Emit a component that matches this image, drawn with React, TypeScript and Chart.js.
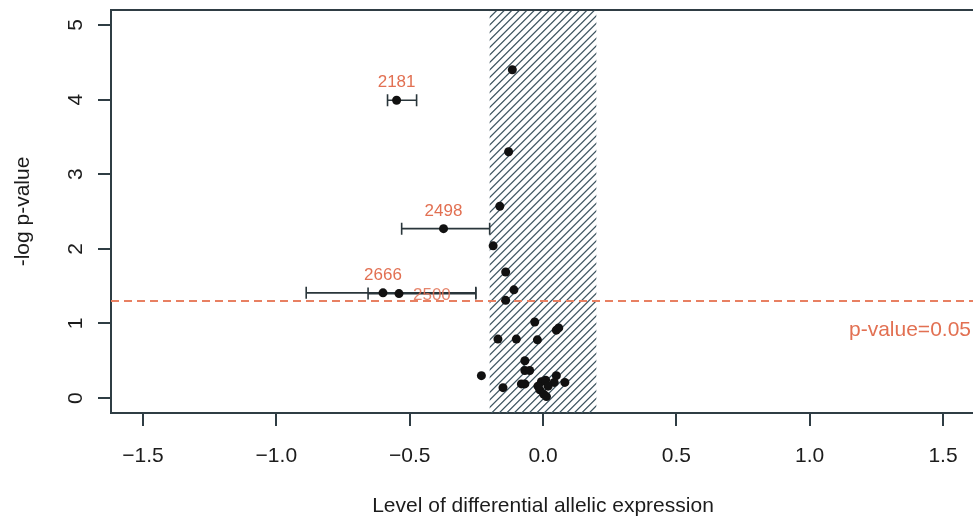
import React, { useEffect, useRef } from 'react';
import { Chart, registerables } from 'chart.js';

Chart.register(...registerables);

// ---- data ----
const pointX = [
  -0.115, -0.129, -0.162, -0.187, -0.140, -0.109, -0.140, -0.031, 0.050, 0.059,
  -0.169, -0.100, -0.021, -0.068, -0.231, -0.068, -0.050, 0.050, -0.150, -0.081,
  -0.068, 0.082, 0.042, -0.006, 0.010, 0.019, -0.012, 0.003, 0.013, -0.019,
];
const pointY = [
  4.40, 3.30, 2.57, 2.04, 1.69, 1.45, 1.31, 1.02, 0.91, 0.94,
  0.79, 0.79, 0.78, 0.50, 0.30, 0.37, 0.37, 0.30, 0.14, 0.19,
  0.19, 0.21, 0.21, 0.22, 0.24, 0.16, 0.11, 0.05, 0.02, 0.16,
];
const labelIds = ['2181', '2498', '2666', '2500'];
const labelX = [-0.549, -0.373, -0.600, -0.540];
const labelY = [3.99, 2.27, 1.41, 1.40];
const errLow = [-0.583, -0.530, -0.888, -0.656];
const errHigh = [-0.474, -0.200, -0.252, -0.252];
const xTicks = [-1.5, -1.0, -0.5, 0.0, 0.5, 1.0, 1.5];
const yTicks = [0, 1, 2, 3, 4, 5];
const xLimits = [-1.62, 1.62];
const yLimits = [-0.2, 5.2];
const bandLimits = [-0.2, 0.2];
const pThreshold = 0.05;
const thresholdLabel = 'p-value=0.05';
const xTitle = 'Level of differential allelic expression';
const yTitle = '-log p-value';

// ---- styles ----
const labelPlacement = ['above', 'above', 'above', 'right'];
const FONT = '"Liberation Sans", Arial, Helvetica, sans-serif';
const AXIS = '#2f3d44';
const TEXT = '#1c1c1c';
const ORANGE = 'rgb(226,112,82)';
const ORANGE_LINE = 'rgb(232,128,98)';
const HATCH = '#3e5560';
const PLOT_RIGHT = 975; // plot box extends just past the canvas edge

const fmtTick = (v: number) => (v < 0 ? '\u2212' + Math.abs(v).toFixed(1) : v.toFixed(1));

const rPlot = {
  id: 'rplot',
  afterLayout(chart: any) {
    const x = chart.scales.x;
    x.right = PLOT_RIGHT;
    x.width = x.right - x.left;
    chart.chartArea.right = PLOT_RIGHT;
    chart.chartArea.width = PLOT_RIGHT - chart.chartArea.left;
    x.configure();
  },
  beforeDatasetsDraw(chart: any) {
    const { ctx, chartArea: a, scales } = chart;
    const x = scales.x;
    const y = scales.y;
    // hatched band
    const x0 = x.getPixelForValue(bandLimits[0]);
    const x1 = x.getPixelForValue(bandLimits[1]);
    const h = a.bottom - a.top;
    ctx.save();
    ctx.beginPath();
    ctx.rect(x0, a.top, x1 - x0, h);
    ctx.clip();
    ctx.strokeStyle = HATCH;
    ctx.lineWidth = 1.2;
    ctx.beginPath();
    for (let s = x0 - h; s < x1 + 8; s += 7.5) {
      ctx.moveTo(s, a.bottom);
      ctx.lineTo(s + h, a.top);
    }
    ctx.stroke();
    ctx.restore();

    // threshold line
    const ty = y.getPixelForValue(-Math.log10(pThreshold));
    ctx.save();
    ctx.strokeStyle = ORANGE_LINE;
    ctx.lineWidth = 2;
    ctx.setLineDash([8, 5]);
    ctx.beginPath();
    ctx.moveTo(a.left, ty);
    ctx.lineTo(a.right, ty);
    ctx.stroke();
    ctx.restore();

    // error bars
    ctx.save();
    ctx.strokeStyle = '#2a363b';
    ctx.lineWidth = 1.6;
    for (let i = 0; i < labelIds.length; i++) {
      const py = y.getPixelForValue(labelY[i]);
      const xl = x.getPixelForValue(errLow[i]);
      const xh = x.getPixelForValue(errHigh[i]);
      ctx.beginPath();
      ctx.moveTo(xl, py);
      ctx.lineTo(xh, py);
      ctx.moveTo(xl, py - 6);
      ctx.lineTo(xl, py + 6);
      ctx.moveTo(xh, py - 6);
      ctx.lineTo(xh, py + 6);
      ctx.stroke();
    }
    ctx.restore();
  },
  afterDatasetsDraw(chart: any) {
    const { ctx, chartArea: a, scales } = chart;
    const x = scales.x;
    const y = scales.y;
    ctx.save();
    // point labels
    ctx.font = `17px ${FONT}`;
    ctx.fillStyle = ORANGE;
    ctx.textBaseline = 'alphabetic';
    for (let i = 0; i < labelIds.length; i++) {
      const px = x.getPixelForValue(labelX[i]);
      const py = y.getPixelForValue(labelY[i]);
      if (labelPlacement[i] === 'right') {
        ctx.globalAlpha = 0.85;
        ctx.textAlign = 'left';
        ctx.fillText(labelIds[i], px + 14, py + 6);
        ctx.globalAlpha = 1;
      } else {
        ctx.textAlign = 'center';
        ctx.fillText(labelIds[i], px, py - 13);
      }
    }
    // threshold label
    ctx.font = `21px ${FONT}`;
    ctx.textAlign = 'right';
    ctx.fillStyle = ORANGE;
    const ty = y.getPixelForValue(-Math.log10(pThreshold));
    ctx.fillText(thresholdLabel, 971, ty + 35);

    // top and right border
    ctx.strokeStyle = AXIS;
    ctx.lineWidth = 2;
    ctx.beginPath();
    ctx.moveTo(a.left - 1, a.top);
    ctx.lineTo(a.right, a.top);
    ctx.lineTo(a.right, a.bottom);
    ctx.stroke();

    // y tick labels (rotated, R style)
    ctx.fillStyle = TEXT;
    ctx.textAlign = 'center';
    for (const v of yTicks) {
      const py = y.getPixelForValue(v);
      ctx.save();
      ctx.translate(81.5, py);
      ctx.rotate(-Math.PI / 2);
      ctx.fillText(String(v), 0, 0);
      ctx.restore();
    }
    // y title
    ctx.save();
    ctx.translate(29, (a.top + a.bottom) / 2);
    ctx.rotate(-Math.PI / 2);
    ctx.fillText(yTitle, 0, 0);
    ctx.restore();
    // x title
    ctx.fillText(xTitle, (a.left + a.right) / 2, 512);
    ctx.restore();
  },
};

export default function App() {
  const ref = useRef<HTMLCanvasElement | null>(null);
  useEffect(() => {
    const canvas = ref.current;
    if (!canvas) return;
    const pts = pointX.map((v, i) => ({ x: v, y: pointY[i] }));
    const lab = labelX.map((v, i) => ({ x: v, y: labelY[i] }));
    const chart = new Chart(canvas, {
      type: 'scatter',
      data: {
        datasets: [
          {
            data: [...pts, ...lab],
            pointRadius: 4.5,
            pointBackgroundColor: '#111',
            pointBorderWidth: 0,
            showLine: false,
          },
        ],
      },
      options: {
        responsive: false,
        animation: false,
        events: [],
        layout: { padding: { top: 10, left: 0, right: 0, bottom: 0 } },
        plugins: { legend: { display: false }, tooltip: { enabled: false } },
        scales: {
          x: {
            type: 'linear',
            min: xLimits[0],
            max: xLimits[1],
            afterBuildTicks: (s: any) => {
              s.ticks = xTicks.map((v) => ({ value: v }));
            },
            afterFit: (s: any) => {
              s.height = 109;
              s.paddingLeft = 0;
              s.paddingRight = 0;
            },
            grid: { drawOnChartArea: false, drawTicks: true, tickLength: 13, color: AXIS, lineWidth: 2 },
            border: { display: true, color: AXIS, width: 2 },
            ticks: {
              padding: 18,
              color: TEXT,
              font: { family: FONT, size: 21 },
              maxRotation: 0,
              autoSkip: false,
              callback: (v: any) => fmtTick(Number(v)),
            },
          },
          y: {
            type: 'linear',
            min: yLimits[0],
            max: yLimits[1],
            afterBuildTicks: (s: any) => {
              s.ticks = yTicks.map((v) => ({ value: v }));
            },
            afterFit: (s: any) => {
              s.width = 111;
              s.paddingTop = 0;
              s.paddingBottom = 0;
            },
            grid: { drawOnChartArea: false, drawTicks: true, tickLength: 13, color: AXIS, lineWidth: 2 },
            border: { display: true, color: AXIS, width: 2 },
            ticks: { display: false },
          },
        },
      },
      plugins: [rPlot],
    } as any);
    return () => chart.destroy();
  }, []);
  return (
    <div style={{ position: 'absolute', left: 0, top: 0, width: 973, height: 522, background: '#fff' }}>
      <canvas ref={ref} width={973} height={522} style={{ display: 'block' }} />
    </div>
  );
}
